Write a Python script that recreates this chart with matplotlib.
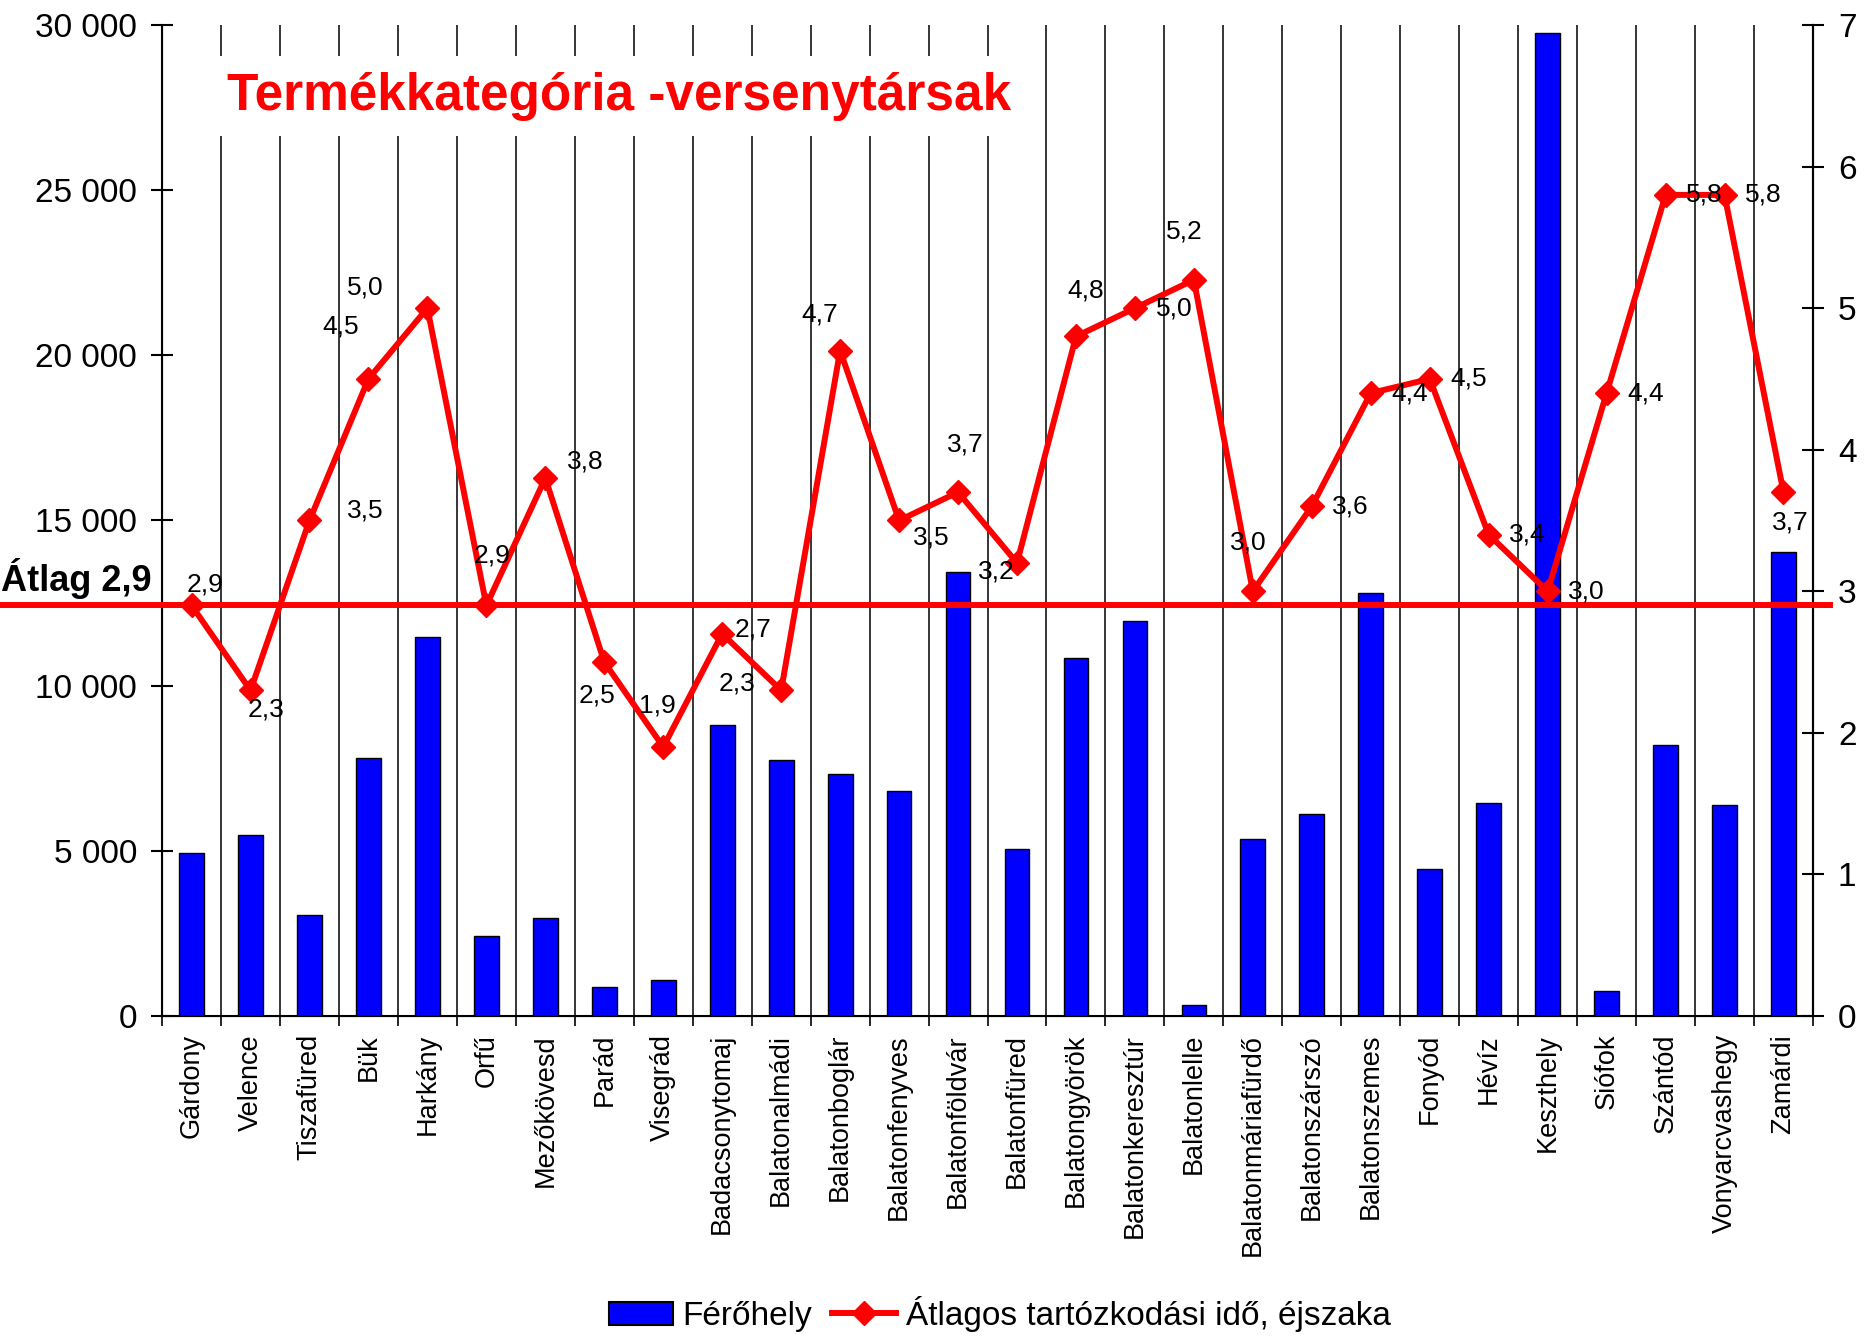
import matplotlib
matplotlib.use('Agg')
import matplotlib.pyplot as plt
import matplotlib.transforms as mtransforms
from matplotlib.patches import Patch
from matplotlib.lines import Line2D
import numpy as np

plt.rcParams['font.family'] = ['Liberation Sans', 'DejaVu Sans']

# data
towns = ['Gárdony', 'Velence', 'Tiszafüred', 'Bük', 'Harkány', 'Orfű', 'Mezőkövesd',
         'Parád', 'Visegrád', 'Badacsonytomaj', 'Balatonalmádi', 'Balatonboglár',
         'Balatonfenyves', 'Balatonföldvár', 'Balatonfüred', 'Balatongyörök',
         'Balatonkeresztúr', 'Balatonlelle', 'Balatonmáriafürdő', 'Balatonszárszó',
         'Balatonszemes', 'Fonyód', 'Hévíz', 'Keszthely', 'Siófok', 'Szántód',
         'Vonyarcvashegy', 'Zamárdi']
ferohely = [4930, 5470, 3050, 7820, 11480, 2430, 2970, 880, 1090, 8800, 7750, 7320,
            6810, 13440, 5040, 10830, 11960, 330, 5360, 6120, 12790, 4460, 6450,
            29750, 760, 8190, 6380, 14060]
ejszaka = [2.9, 2.3, 3.5, 4.5, 5.0, 2.9, 3.8, 2.5, 1.9, 2.7, 2.3, 4.7, 3.5, 3.7, 3.2,
           4.8, 5.0, 5.2, 3.0, 3.6, 4.4, 4.5, 3.4, 3.0, 4.4, 5.8, 5.8, 3.7]
atlag = 2.9
title = 'Termékkategória -versenytársak'

# label offsets in points (where Excel happened to put them)
label_off = [(10, 15), (11, -14), (40, 7), (-20, 38), (-45, 15), (4, 36), (29, 12),
             (-5, -24), (-4, 30), (22, 3), (-32, 5), (-15, 26), (23, -12), (5, 34),
             (-15, -6), (7, 33), (28, 0), (-7, 35), (-3, 35), (28, 0), (28, 0),
             (28, 0), (28, 0), (28, 0), (28, 0), (28, 0), (28, 0), (5, -22)]

fig = plt.figure(figsize=(18.76, 13.38), dpi=100)
ax = fig.add_axes([0.0864, 0.2407, 0.8800, 0.7406])
ax2 = ax.twinx()
ax2.set_zorder(ax.get_zorder() + 1)

x = np.arange(len(towns))
ax.bar(x, ferohely, width=0.42, color='#0000FF', edgecolor='black', linewidth=1, zorder=3)

# vertical separators between categories
ax.vlines(x[:-1] + 0.5, 0, 30000, color='black', linewidth=1.1, zorder=1)

ax.set_xlim(-0.5, len(towns) - 0.5)
ax.set_ylim(0, 30000)
ax.set_yticks(np.arange(0, 30001, 5000))
ax.set_yticklabels([f'{v:,}'.replace(',', ' ') for v in range(0, 30001, 5000)], fontsize=24)
ax.tick_params(axis='y', direction='inout', length=16, width=1.5, pad=10)
ax.set_xticks(x)
ax.set_xticklabels(towns, rotation=90, fontsize=19.5, va='top')
ax.tick_params(axis='x', length=0, pad=13)
ax.set_xticks(np.arange(-0.5, len(towns)), minor=True)
ax.tick_params(axis='x', which='minor', length=7, width=1.2, direction='out')
ax.spines['top'].set_visible(False)
for s in ['left', 'bottom', 'right']:
    ax.spines[s].set_linewidth(1.5)

ax2.plot(x, ejszaka, color='#FF0000', linewidth=4.3, marker='D', markersize=12.5,
         zorder=4)
ax2.set_ylim(0, 7)
ax2.set_yticks(range(0, 8))
ax2.tick_params(axis='y', direction='inout', length=16, width=1.5, pad=10, labelsize=24)
ax2.spines['top'].set_visible(False)
ax2.spines['right'].set_linewidth(1.5)

for xi, v, off in zip(x, ejszaka, label_off):
    ax2.annotate(f'{v:.1f}'.replace('.', ','), (xi, v), xytext=off, textcoords='offset points',
                 ha='center', va='center', fontsize=19, zorder=5)

# average line
trans = mtransforms.blended_transform_factory(ax2.transAxes, ax2.transData)
ax2.plot([-0.1, 1.0103], [atlag, atlag], color='#FF0000', linewidth=4.3,
         transform=trans, clip_on=False, zorder=3)
ax2.annotate(f'Átlag {atlag:.1f}'.replace('.', ','), (-0.0975, atlag), xycoords=trans,
             xytext=(0, 10.5), textcoords='offset points', ha='left', va='baseline',
             fontsize=26, fontweight='bold', annotation_clip=False)

ax2.text(0.277, 0.928, title, transform=ax2.transAxes, ha='center', va='center',
         fontsize=37, fontweight='bold', color='#FF0000', zorder=10,
         bbox=dict(boxstyle='square,pad=0.3', facecolor='white', edgecolor='none'))

handles = [Patch(facecolor='#0000FF', edgecolor='black', linewidth=1.5),
           Line2D([], [], color='#FF0000', linewidth=4.3, marker='D', markersize=12.5)]
fig.legend(handles, ['Férőhely', 'Átlagos tartózkodási idő, éjszaka'], loc='lower center',
           bbox_to_anchor=(0.533, -0.018), ncol=2, frameon=False, fontsize=24,
           handlelength=1.9, handletextpad=0.3, columnspacing=0.6)

plt.savefig('out.png', dpi=100)
